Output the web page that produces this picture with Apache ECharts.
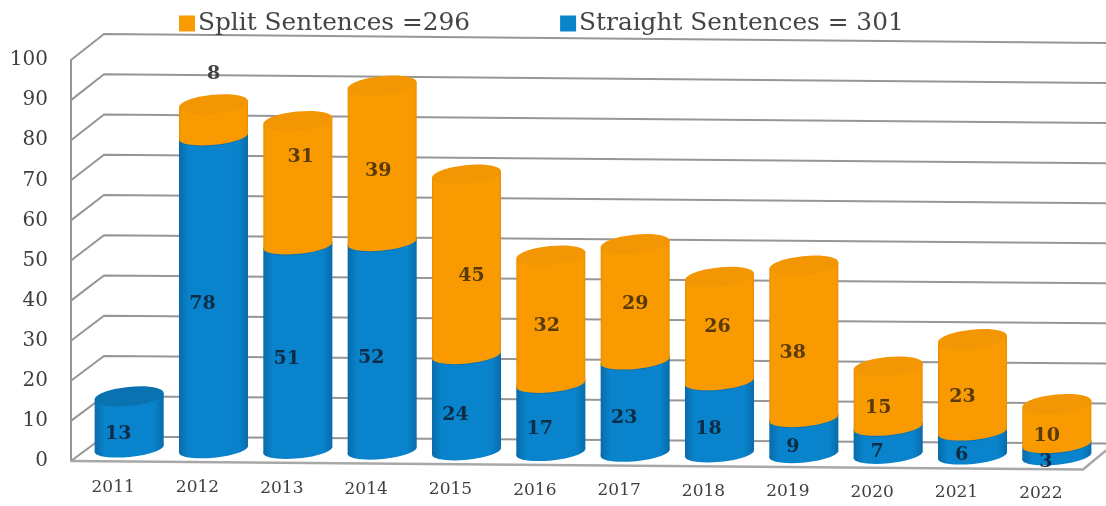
<!DOCTYPE html>
<html>
<head>
<meta charset="utf-8">
<style>html,body{margin:0;padding:0;background:#fff}#c{width:1106px;height:506px}</style>
<script src="https://cdn.jsdelivr.net/npm/echarts@6/dist/echarts.min.js"></script>
</head>
<body>
<div id="c"></div>
<script>
const years = ['2011','2012','2013','2014','2015','2016','2017','2018','2019','2020','2021','2022'];
const straight = [13,78,51,52,24,17,23,18,9,7,6,3];
const split = [0,8,31,39,45,32,29,26,38,15,23,10];
const yTicks = [0,10,20,30,40,50,60,70,80,90,100];
const splitName = 'Split Sentences =296';
const straightName = 'Straight Sentences = 301';

// hand placed label shifts of the original chart, per year (split series only)
const splitLabelShift = [[0,0],[11,-58],[14,-38],[7,-4],[16,0],[7,-5],[11,-10],[9,-14],[0,0],[1,0],[1,0],[1,0]];

const FONT = '"DejaVu Serif"';
const SLOPE = 0.0083, DEPTH_X = 16, DEPTH_Y = -13, RX = 34.7, RY = 8.5, RY_TOP = 9.5, TILT = 0.1;
const WALL_X = 33, WALL_Y = -24.5;
const GRAY = '#969696';

function wallItem(params, api) {
  const v = api.value(1);
  const cs = params.coordSys;
  const y = api.coord([0, v])[1];
  const xL = cs.x, xB = xL + WALL_X, xR = 1106;
  const yB = y + WALL_Y - 0.015 * v;
  const yR = yB + 7 + 0.02 * v;
  return {type: 'polyline', shape: {points: [[xL, y], [xB, yB], [xR, yR]]},
    style: {stroke: GRAY, lineWidth: 2, fill: null}, silent: true};
}

function floorItem(params, api) {
  const cs = params.coordSys;
  const y0 = api.coord([0, 0])[1];
  const xE = cs.x + cs.width;
  return {type: 'polyline', shape: {points: [[cs.x, y0], [xE, y0 + cs.width * SLOPE], [1106, y0 + cs.width * SLOPE - 19]]},
    style: {stroke: '#a8a8a8', lineWidth: 2.5, fill: null}, silent: true};
}

function cylinderItem(side, top, edge, edgeStop, textColor, shifts) {
  return function (params, api) {
    const i = api.value(0), lo = api.value(1), hi = api.value(2);
    if (hi - lo <= 0) return null;
    const pLo = api.coord([i, lo]), pHi = api.coord([i, hi]);
    const front = pLo[0];
    const cx = front + DEPTH_X;
    const skew = DEPTH_Y + (cx - params.coordSys.x) * SLOPE;
    const yLo = pLo[1] + skew, yHi = pHi[1] + skew;
    const dy = RX * Math.sin(TILT), hw = RX * Math.cos(TILT);
    const fill = {type: 'linear', x: 0, y: 0, x2: 1, y2: 0,
      colorStops: [{offset: 0, color: edge}, {offset: edgeStop, color: side}, {offset: 1 - edgeStop, color: side}, {offset: 1, color: edge}]};
    const children = [
      {type: 'ellipse', x: cx, y: yLo, rotation: TILT, shape: {cx: 0, cy: 0, rx: RX, ry: RY}, style: {fill}},
      {type: 'polygon', shape: {points: [[cx - hw, yHi + dy], [cx + hw, yHi - dy], [cx + hw, yLo - dy], [cx - hw, yLo + dy]]}, style: {fill}},
      {type: 'ellipse', x: cx, y: yHi, rotation: TILT, shape: {cx: 0, cy: 0, rx: RX, ry: RY_TOP}, style: {fill: top}}
    ];
    const s = shifts ? shifts[i] : [0, 0];
    const above = shifts && s[1] < -50;
    children.push({type: 'text', z2: 20,
      x: front + 5 + s[0], y: (yLo + yHi) / 2 + 11.5 + s[1],
      style: {text: String(hi - lo), font: 'bold 19px ' + FONT, fill: above ? '#444' : textColor, align: 'center', verticalAlign: 'middle'}});
    return {type: 'group', children};
  };
}

const rich = {};
years.forEach((y, i) => {
  rich['y' + i] = {fontFamily: FONT, fontSize: 17, color: '#3f3f3f', padding: [i * 0.55, 0, 0, 0]};
});

const straightRows = straight.map((v, i) => [i, 0, v]);
const splitRows = split.map((v, i) => [i, straight[i], straight[i] + v]);

const option = {
  animation: false,
  backgroundColor: '#fff',
  legend: {
    data: [splitName, straightName],
    left: 174, top: 6, itemWidth: 16, itemHeight: 16, itemGap: 90, icon: 'rect',
    textStyle: {fontFamily: FONT, fontSize: 24.8, color: '#444', padding: [0, 0, 0, -2]}
  },
  grid: {left: 71, top: 60, width: 1012, height: 401},
  xAxis: {
    type: 'category', data: years,
    axisLine: {show: false}, axisTick: {show: false},
    axisLabel: {interval: 0, margin: 18, formatter: (v, i) => '{y' + i + '|' + v + '}', rich}
  },
  yAxis: {
    type: 'value', min: 0, max: 100, interval: 10,
    axisLine: {show: true, lineStyle: {color: GRAY, width: 2}},
    axisTick: {show: false}, splitLine: {show: false},
    axisLabel: {fontFamily: FONT, fontSize: 20, color: '#3f3f3f', margin: 23}
  },
  series: [
    {type: 'custom', name: 'walls', silent: true, renderItem: wallItem, data: yTicks.map(v => [0, v]), encode: {x: 0, y: 1}, z: 1},
    {type: 'custom', name: 'floor', silent: true, renderItem: floorItem, data: [[0, 0]], encode: {x: 0, y: 1}, z: 1},
    {type: 'custom', name: straightName, itemStyle: {color: '#0A83C8'},
      renderItem: cylinderItem('#0883CC', '#0A72B0', '#0A6BA8', 0.14, '#0d2c45', null),
      data: straightRows, encode: {x: 0, y: 2}, z: 2},
    {type: 'custom', name: splitName, itemStyle: {color: '#F99B00'},
      renderItem: cylinderItem('#F99B00', '#F29703', '#E89000', 0.04, '#5a3a0a', splitLabelShift),
      data: splitRows, encode: {x: 0, y: 2}, z: 2}
  ]
};
echarts.init(document.getElementById('c'), null, {renderer: 'canvas'}).setOption(option);
</script>
</body>
</html>
